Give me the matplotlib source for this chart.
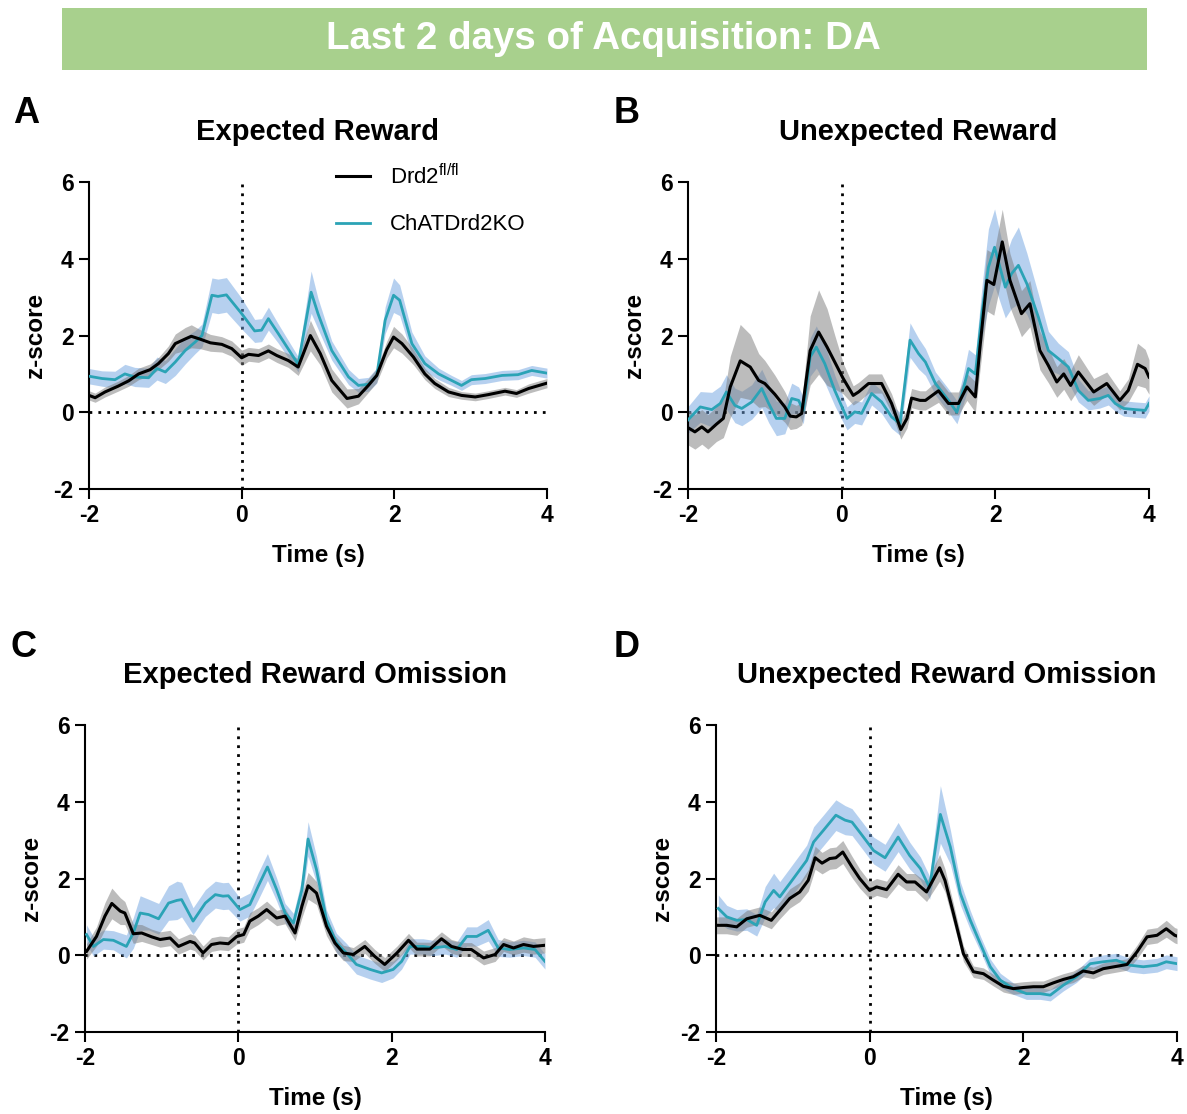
import matplotlib
matplotlib.use('Agg')
import matplotlib.pyplot as plt
from matplotlib.patches import Rectangle

plt.rcParams['font.family'] = ['Liberation Sans', 'DejaVu Sans']
plt.rcParams['mathtext.fontset'] = 'custom'
plt.rcParams['mathtext.rm'] = 'Liberation Sans'
plt.rcParams['axes.unicode_minus'] = False

BLACK = '#000000'
TEAL = '#2ba3b6'
GREY_BAND = '#7a7a7a'
BLUE_BAND = '#6fa3e0'

# --- A: Expected Reward ---
a_ctl_t = [-2.00, -1.92, -1.79, -1.62, -1.48, -1.35, -1.20, -1.09, -0.96, -0.87, -0.74, -0.66, -0.55, -0.41,
           -0.26, -0.13, 0.00, 0.09, 0.22, 0.35, 0.46, 0.61, 0.74, 0.90, 1.03, 1.18, 1.38, 1.53, 1.66, 1.77,
           1.90, 1.99, 2.10, 2.25, 2.40, 2.53, 2.71, 2.88, 3.06, 3.23, 3.45, 3.60, 3.76, 4.00]
a_ctl_z = [0.44, 0.38, 0.53, 0.68, 0.82, 1.00, 1.11, 1.27, 1.53, 1.79, 1.91, 1.98, 1.91, 1.81,
           1.77, 1.66, 1.42, 1.51, 1.48, 1.60, 1.48, 1.35, 1.18, 2.00, 1.53, 0.83, 0.36, 0.42, 0.70, 0.96,
           1.63, 1.96, 1.79, 1.44, 1.00, 0.75, 0.53, 0.44, 0.40, 0.46, 0.55, 0.49, 0.62, 0.76]
a_ctl_sem = [0.12, 0.12, 0.13, 0.13, 0.14, 0.15, 0.15, 0.16, 0.20, 0.25, 0.30, 0.30, 0.25, 0.22,
             0.20, 0.20, 0.20, 0.18, 0.18, 0.18, 0.18, 0.18, 0.22, 0.40, 0.30, 0.30, 0.25, 0.20, 0.18, 0.18,
             0.22, 0.28, 0.25, 0.20, 0.15, 0.13, 0.12, 0.10, 0.10, 0.10, 0.10, 0.10, 0.12, 0.12]
a_ko_t = [-2.00, -1.83, -1.66, -1.53, -1.40, -1.22, -1.11, -1.00, -0.87, -0.74, -0.61, -0.52, -0.39, -0.31,
          -0.20, 0.00, 0.17, 0.26, 0.35, 0.48, 0.74, 0.91, 1.00, 1.18, 1.40, 1.53, 1.66, 1.77, 1.88, 1.99,
          2.07, 2.23, 2.40, 2.58, 2.75, 2.88, 3.01, 3.19, 3.41, 3.62, 3.80, 4.00]
a_ko_z = [0.94, 0.88, 0.85, 1.00, 0.92, 0.90, 1.14, 1.05, 1.31, 1.61, 1.83, 2.00, 3.05, 3.02,
          3.06, 2.57, 2.12, 2.14, 2.44, 2.05, 1.25, 3.13, 2.57, 1.61, 0.92, 0.70, 0.73, 0.96, 2.40, 3.05,
          2.92, 1.79, 1.27, 1.00, 0.83, 0.70, 0.85, 0.88, 0.96, 0.98, 1.09, 1.02]
a_ko_sem = [0.20, 0.20, 0.22, 0.25, 0.25, 0.25, 0.30, 0.30, 0.35, 0.35, 0.30, 0.30, 0.45, 0.45,
            0.45, 0.40, 0.30, 0.30, 0.30, 0.25, 0.20, 0.55, 0.40, 0.25, 0.20, 0.18, 0.18, 0.20, 0.35, 0.45,
            0.40, 0.30, 0.20, 0.15, 0.13, 0.13, 0.13, 0.13, 0.13, 0.13, 0.13, 0.13]

# --- B: Unexpected Reward ---
b_ctl_t = [-2.00, -1.91, -1.82, -1.74, -1.63, -1.54, -1.45, -1.32, -1.19, -1.08, -1.00, -0.87, -0.74, -0.67,
           -0.59, -0.52, -0.41, -0.30, -0.19, -0.09, 0.02, 0.15, 0.22, 0.35, 0.52, 0.65, 0.77, 0.85, 0.91,
           1.02, 1.09, 1.26, 1.39, 1.52, 1.63, 1.74, 1.80, 1.89, 1.98, 2.09, 2.19, 2.34, 2.45, 2.58, 2.69,
           2.80, 2.89, 2.98, 3.08, 3.28, 3.45, 3.62, 3.73, 3.85, 3.95, 4.00]
b_ctl_z = [-0.40, -0.51, -0.38, -0.51, -0.31, -0.16, 0.66, 1.34, 1.18, 0.83, 0.75, 0.47, 0.14, -0.10,
           -0.12, -0.03, 1.61, 2.09, 1.70, 1.31, 0.88, 0.44, 0.53, 0.75, 0.75, 0.23, -0.45, -0.16, 0.37,
           0.31, 0.31, 0.56, 0.23, 0.23, 0.66, 0.40, 1.70, 3.44, 3.33, 4.44, 3.44, 2.57, 2.83, 1.61, 1.22,
           0.79, 1.00, 0.70, 1.05, 0.53, 0.75, 0.31, 0.57, 1.25, 1.14, 0.92]
b_ctl_sem = [0.45, 0.45, 0.45, 0.45, 0.45, 0.50, 0.80, 0.95, 0.85, 0.70, 0.60, 0.50, 0.40, 0.35,
             0.30, 0.30, 0.90, 1.10, 1.00, 0.70, 0.40, 0.25, 0.25, 0.25, 0.25, 0.25, 0.25, 0.25, 0.25,
             0.25, 0.25, 0.30, 0.30, 0.30, 0.35, 0.40, 0.60, 0.80, 0.80, 0.85, 0.70, 0.60, 0.60, 0.50, 0.45,
             0.40, 0.40, 0.40, 0.45, 0.35, 0.30, 0.25, 0.30, 0.55, 0.50, 0.45]
b_ko_t = [-2.00, -1.84, -1.69, -1.58, -1.50, -1.39, -1.30, -1.17, -1.04, -0.95, -0.85, -0.74, -0.65, -0.56,
          -0.50, -0.41, -0.33, -0.22, -0.09, 0.07, 0.17, 0.26, 0.39, 0.52, 0.65, 0.76, 0.89, 1.00, 1.09,
          1.22, 1.39, 1.50, 1.59, 1.65, 1.74, 1.83, 1.91, 1.99, 2.06, 2.13, 2.21, 2.30, 2.41, 2.56, 2.69,
          2.82, 2.95, 3.08, 3.21, 3.36, 3.47, 3.56, 3.67, 3.82, 3.95, 4.00]
b_ko_z = [-0.20, 0.14, 0.07, 0.23, 0.53, 0.18, 0.10, 0.27, 0.62, 0.23, -0.16, -0.16, 0.36, 0.31,
          0.05, 1.44, 1.70, 1.27, 0.57, -0.16, 0.01, -0.03, 0.49, 0.27, -0.12, -0.30, 1.88, 1.53, 1.31,
          0.75, 0.31, 0.00, 0.66, 1.14, 1.00, 2.66, 3.78, 4.30, 3.78, 3.26, 3.61, 3.83, 3.35, 2.48, 1.61,
          1.40, 1.18, 0.57, 0.31, 0.36, 0.44, 0.23, 0.10, 0.07, 0.05, 0.23]
b_ko_sem = [0.35, 0.40, 0.45, 0.45, 0.45, 0.45, 0.45, 0.45, 0.50, 0.50, 0.45, 0.40, 0.40, 0.35,
            0.35, 0.50, 0.55, 0.50, 0.40, 0.30, 0.30, 0.30, 0.30, 0.30, 0.30, 0.30, 0.45, 0.40, 0.35,
            0.30, 0.30, 0.30, 0.40, 0.50, 0.50, 0.70, 1.00, 1.00, 0.90, 0.80, 0.90, 1.00, 0.80, 0.60, 0.50,
            0.40, 0.40, 0.30, 0.25, 0.25, 0.25, 0.20, 0.20, 0.20, 0.20, 0.20]

# --- C: Expected Reward Omission ---
c_ctl_t = [-1.98, -1.85, -1.74, -1.65, -1.54, -1.48, -1.37, -1.26, -1.13, -1.02, -0.89, -0.78, -0.63, -0.57,
           -0.46, -0.35, -0.24, -0.13, -0.02, 0.07, 0.15, 0.26, 0.37, 0.50, 0.61, 0.74, 0.83, 0.91, 1.02,
           1.15, 1.26, 1.37, 1.50, 1.65, 1.78, 1.91, 2.07, 2.22, 2.33, 2.50, 2.65, 2.78, 2.93, 3.04, 3.20,
           3.35, 3.46, 3.59, 3.72, 3.85, 4.00]
c_ctl_z = [0.10, 0.49, 1.02, 1.35, 1.15, 1.10, 0.56, 0.58, 0.48, 0.41, 0.45, 0.23, 0.36, 0.32,
           0.06, 0.28, 0.32, 0.30, 0.49, 0.54, 0.89, 1.02, 1.19, 0.97, 1.02, 0.58, 1.28, 1.81, 1.62,
           0.76, 0.32, 0.06, 0.02, 0.23, -0.03, -0.24, 0.06, 0.39, 0.16, 0.16, 0.43, 0.23, 0.15, 0.15, -0.07,
           0.02, 0.28, 0.19, 0.28, 0.23, 0.26]
c_ctl_sem = [0.20, 0.25, 0.35, 0.40, 0.35, 0.30, 0.25, 0.22, 0.20, 0.20, 0.20, 0.20, 0.20, 0.20,
             0.18, 0.18, 0.18, 0.18, 0.20, 0.20, 0.22, 0.22, 0.22, 0.20, 0.20, 0.20, 0.30, 0.35, 0.30,
             0.25, 0.20, 0.20, 0.18, 0.18, 0.18, 0.18, 0.18, 0.18, 0.18, 0.18, 0.18, 0.18, 0.18, 0.18, 0.18,
             0.18, 0.18, 0.18, 0.20, 0.20, 0.20]
c_ko_t = [-1.98, -1.89, -1.76, -1.63, -1.46, -1.37, -1.28, -1.17, -1.04, -0.91, -0.80, -0.74, -0.59, -0.43,
          -0.30, -0.20, -0.13, 0.02, 0.15, 0.26, 0.38, 0.50, 0.61, 0.72, 0.83, 0.91, 1.02, 1.15, 1.28,
          1.41, 1.54, 1.72, 1.87, 2.02, 2.13, 2.24, 2.41, 2.54, 2.70, 2.85, 2.98, 3.11, 3.26, 3.39, 3.54,
          3.72, 3.87, 4.00]
c_ko_z = [0.54, 0.23, 0.41, 0.39, 0.23, 0.58, 1.10, 1.06, 0.95, 1.36, 1.43, 1.45, 0.89, 1.36,
          1.58, 1.54, 1.55, 1.19, 1.32, 1.80, 2.30, 1.71, 1.10, 0.84, 1.71, 3.03, 2.23, 0.93, 0.32,
          0.06, -0.24, -0.37, -0.46, -0.37, -0.16, 0.23, 0.23, 0.19, 0.23, 0.15, 0.49, 0.49, 0.65, 0.19, 0.15,
          0.19, 0.15, -0.16]
c_ko_sem = [0.25, 0.25, 0.25, 0.25, 0.30, 0.40, 0.45, 0.40, 0.40, 0.45, 0.50, 0.45, 0.35, 0.35,
            0.35, 0.35, 0.35, 0.30, 0.30, 0.35, 0.35, 0.30, 0.25, 0.25, 0.30, 0.45, 0.35, 0.25, 0.25,
            0.25, 0.25, 0.25, 0.25, 0.22, 0.20, 0.20, 0.20, 0.20, 0.20, 0.20, 0.25, 0.25, 0.28, 0.22, 0.20,
            0.20, 0.20, 0.20]

# --- D: Unexpected Reward Omission ---
d_ctl_t = [-2.00, -1.86, -1.73, -1.60, -1.43, -1.28, -1.17, -1.04, -0.91, -0.80, -0.71, -0.62, -0.52, -0.44,
           -0.35, -0.23, -0.13, 0.00, 0.09, 0.22, 0.37, 0.48, 0.59, 0.74, 0.91, 0.98, 1.09, 1.22, 1.35,
           1.48, 1.61, 1.74, 1.87, 2.00, 2.13, 2.26, 2.39, 2.52, 2.65, 2.78, 2.91, 3.04, 3.21, 3.35, 3.48,
           3.61, 3.74, 3.86, 3.97, 4.00]
d_ctl_z = [0.78, 0.78, 0.74, 0.95, 1.04, 0.91, 1.17, 1.48, 1.65, 1.95, 2.54, 2.40, 2.52, 2.54,
           2.69, 2.30, 2.00, 1.69, 1.78, 1.71, 2.11, 1.91, 1.91, 1.65, 2.28, 1.95, 1.09, 0.04, -0.43,
           -0.48, -0.65, -0.81, -0.87, -0.84, -0.82, -0.82, -0.72, -0.63, -0.56, -0.41, -0.46, -0.35, -0.29, -0.24, 0.09,
           0.48, 0.52, 0.69, 0.52, 0.50]
d_ctl_sem = [0.22, 0.22, 0.22, 0.22, 0.22, 0.22, 0.22, 0.25, 0.25, 0.28, 0.30, 0.28, 0.28, 0.28,
             0.30, 0.28, 0.25, 0.22, 0.22, 0.22, 0.25, 0.22, 0.22, 0.25, 0.35, 0.30, 0.25, 0.20, 0.15,
             0.15, 0.15, 0.15, 0.15, 0.15, 0.15, 0.15, 0.15, 0.15, 0.15, 0.15, 0.15, 0.15, 0.15, 0.15, 0.18,
             0.20, 0.20, 0.22, 0.20, 0.20]
d_ko_t = [-1.97, -1.86, -1.73, -1.60, -1.47, -1.36, -1.25, -1.17, -1.04, -0.93, -0.82, -0.73, -0.60, -0.44,
          -0.32, -0.23, -0.10, 0.05, 0.20, 0.37, 0.52, 0.66, 0.78, 0.92, 1.05, 1.18, 1.31, 1.44, 1.57,
          1.70, 1.87, 2.04, 2.22, 2.35, 2.52, 2.69, 2.87, 3.04, 3.21, 3.39, 3.56, 3.74, 3.86, 4.00]
d_ko_z = [1.22, 1.00, 0.91, 0.93, 0.78, 1.39, 1.69, 1.52, 1.87, 2.17, 2.47, 2.95, 3.26, 3.65,
          3.52, 3.47, 3.13, 2.73, 2.54, 3.08, 2.60, 2.26, 1.76, 3.67, 2.82, 1.61, 0.91, 0.30, -0.30,
          -0.65, -0.87, -1.00, -1.00, -1.04, -0.78, -0.56, -0.22, -0.17, -0.13, -0.26, -0.30, -0.26, -0.17, -0.22]
d_ko_sem = [0.35, 0.30, 0.28, 0.28, 0.28, 0.40, 0.45, 0.40, 0.40, 0.40, 0.40, 0.40, 0.40, 0.40,
            0.38, 0.35, 0.35, 0.35, 0.35, 0.38, 0.35, 0.30, 0.30, 0.75, 0.45, 0.30, 0.25, 0.20, 0.20,
            0.18, 0.15, 0.15, 0.15, 0.15, 0.15, 0.15, 0.15, 0.18, 0.18, 0.18, 0.18, 0.18, 0.18, 0.18]

panels = [
    ('A', 'Expected Reward', [0.075, 0.561, 0.3858, 0.2756],
     (a_ctl_t, a_ctl_z, a_ctl_sem), (a_ko_t, a_ko_z, a_ko_sem)),
    ('B', 'Unexpected Reward', [0.5796, 0.561, 0.3884, 0.2756],
     (b_ctl_t, b_ctl_z, b_ctl_sem), (b_ko_t, b_ko_z, b_ko_sem)),
    ('C', 'Expected Reward Omission', [0.0716, 0.0736, 0.3875, 0.2756],
     (c_ctl_t, c_ctl_z, c_ctl_sem), (c_ko_t, c_ko_z, c_ko_sem)),
    ('D', 'Unexpected Reward Omission', [0.6032, 0.0736, 0.3884, 0.2756],
     (d_ctl_t, d_ctl_z, d_ctl_sem), (d_ko_t, d_ko_z, d_ko_sem)),
]
letter_pos = {'A': (0.022, 0.898), 'B': (0.528, 0.898), 'C': (0.020, 0.419), 'D': (0.528, 0.419)}

fig = plt.figure(figsize=(11.87, 11.14), dpi=100)

# green banner with the figure title
fig.patches.append(Rectangle((0.0522, 0.9372), 0.9141, 0.0557, transform=fig.transFigure,
                             facecolor='#a8d08d', edgecolor='none'))
fig.text(0.508, 0.965, 'Last 2 days of Acquisition: DA', color='white', fontsize=27.7,
         fontweight='bold', ha='center', va='center')


def band(ax, t, z, sem, color, alpha):
    lo = [v - s for v, s in zip(z, sem)]
    hi = [v + s for v, s in zip(z, sem)]
    ax.fill_between(t, lo, hi, color=color, alpha=alpha, linewidth=0, zorder=2)


for letter, title, rect, ctl, ko in panels:
    ax = fig.add_axes(rect)
    ax.plot([-2, 4], [0, 0], color='black', linestyle=(0, (1, 2.2)), linewidth=2, zorder=1)
    ax.plot([0, 0], [-2, 6], color='black', linestyle=(0, (1, 2.2)), linewidth=2, zorder=1)

    band(ax, *ko, BLUE_BAND, 0.5)
    band(ax, *ctl, GREY_BAND, 0.5)
    ax.plot(ko[0], ko[1], color=TEAL, linewidth=2.0, zorder=3, label='ChATDrd2KO')
    ax.plot(ctl[0], ctl[1], color=BLACK, linewidth=2.2, zorder=4,
            label=r'Drd2$^{\mathregular{fl/fl}}$')

    ax.set_xlim(-2, 4)
    ax.set_ylim(-2, 6)
    ax.set_xticks([-2, 0, 2, 4])
    ax.set_yticks([-2, 0, 2, 4, 6])
    for side in ['top', 'right']:
        ax.spines[side].set_visible(False)
    for side in ['left', 'bottom']:
        ax.spines[side].set_linewidth(1.5)
    ax.tick_params(width=1.5, length=7, labelsize=16.5, pad=4)
    for lab in ax.get_xticklabels() + ax.get_yticklabels():
        lab.set_fontweight('bold')
    ax.set_xlabel('Time (s)', fontsize=17.5, fontweight='bold', labelpad=12)
    ax.set_ylabel('z-score', fontsize=17.5, fontweight='bold', labelpad=5)
    ax.set_title(title, fontsize=21, fontweight='bold', pad=30)
    fig.text(letter_pos[letter][0], letter_pos[letter][1], letter, fontsize=26,
             fontweight='bold', ha='center', va='center')

    if letter == 'A':
        handles, labels = ax.get_legend_handles_labels()
        ax.legend(handles[::-1], labels[::-1], loc='upper left', bbox_to_anchor=(0.54, 1.06),
                  frameon=False, fontsize=16, handlelength=1.5, handletextpad=0.9,
                  labelspacing=1.15, borderaxespad=0, borderpad=0)

fig.savefig('out.png', dpi=100)
